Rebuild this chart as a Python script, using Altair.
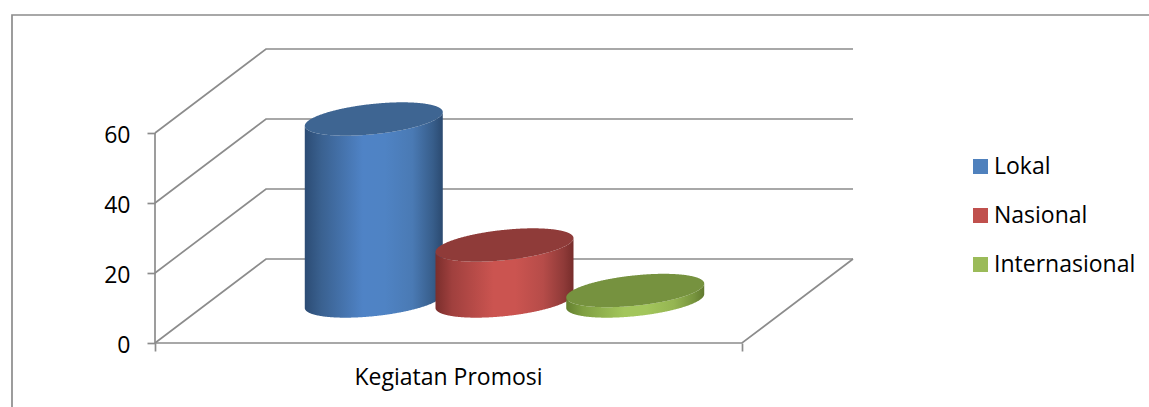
import altair as alt
import numpy as np
import pandas as pd

# Series shown by the chart
SERIES = ["Lokal", "Nasional", "Internasional"]
VALUES = [52, 16, 3]
CATEGORY = ["Kegiatan Promosi"]
TICKS = [0, 20, 40, 60]

LEGEND_COLORS = ["#4F81BD", "#C0504D", "#9BBB59"]
TOP_COLORS = ["#3E6592", "#8F3B39", "#76923F"]
BODY_STOPS = [
    [(0, "#2C4C74"), (0.12, "#3A6190"), (0.42, "#4F83C6"), (0.58, "#4F83C4"), (0.78, "#4A7AB4"), (0.93, "#375D8A"), (1, "#2B4A70")],
    [(0, "#7A2E2C"), (0.12, "#A0403E"), (0.42, "#CB5450"), (0.58, "#CB5450"), (0.78, "#B64C49"), (0.93, "#8F3A38"), (1, "#772D2B")],
    [(0, "#64802F"), (0.12, "#7F9F42"), (0.42, "#A3C65C"), (0.58, "#A3C65C"), (0.78, "#95B552"), (0.93, "#76933D"), (1, "#61792F")],
]

GRAY = "#8C8C8C"
FONT = "Open Sans"
FONT_SIZE = 23

# Oblique projection of the box: floor and walls, expressed in value units
W, H = 1149, 407
LEFT, FRONT_W = 155, 587
DEPTH_DX, DEPTH_DV = 111, 24
x_scale = alt.Scale(domain=[0, W], range=[0, W], nice=False, zero=False)
y_scale = alt.Scale(domain=[-64 / 3.5, 343 / 3.5], range=[H, 0], nice=False, zero=False)


def frac_x(f, depth=0.0):
    return LEFT + f * FRONT_W + depth * DEPTH_DX


# Both axes sit inside the view and are shared by every layer
x_axis = alt.Axis(
    values=[frac_x(0), frac_x(1)], labels=False, domain=False, grid=False,
    tickSize=8, tickColor=GRAY, tickWidth=1.7, offset=-64, title=None,
)
y_axis = alt.Axis(
    values=TICKS, domain=False, grid=False, tickSize=8, tickColor=GRAY, tickWidth=1.7,
    offset=-155, labelFontSize=FONT_SIZE, labelFont=FONT, labelColor="#000000", labelPadding=17,
    labelOffset=2.5, format="d", title=None,
)
X = lambda f: alt.X(f, type="quantitative", scale=x_scale, axis=x_axis)
Y = lambda f: alt.Y(f, type="quantitative", scale=y_scale, axis=y_axis)

# Walls and floor outline
wall_rows = []
for v in TICKS:
    wall_rows += [
        {"k": f"g{v}", "o": 0, "x": frac_x(0), "v": v},
        {"k": f"g{v}", "o": 1, "x": frac_x(0, 1), "v": v + DEPTH_DV},
        {"k": f"g{v}", "o": 2, "x": frac_x(1, 1), "v": v + DEPTH_DV},
    ]
wall_rows += [
    {"k": "floor", "o": 0, "x": frac_x(0), "v": 0},
    {"k": "floor", "o": 1, "x": frac_x(1), "v": 0},
    {"k": "floor", "o": 2, "x": frac_x(1, 1), "v": DEPTH_DV},
    {"k": "axis", "o": 0, "x": frac_x(0), "v": 0},
    {"k": "axis", "o": 1, "x": frac_x(0), "v": TICKS[-1]},
]
walls = (
    alt.Chart(pd.DataFrame(wall_rows))
    .mark_line(color=GRAY, strokeWidth=1.7)
    .encode(x=X("x"), y=Y("v"), detail="k:N", order="o:Q")
)

# Outer frame of the chart, open on the right and at the bottom
frame = (
    alt.Chart(pd.DataFrame({"x": [W, 12, 12], "v": [328 / 3.5, 328 / 3.5, -64 / 3.5], "o": [0, 1, 2]}))
    .mark_line(color=GRAY, strokeWidth=1.7)
    .encode(x=X("x"), y=Y("v"), order="o:Q")
)

# Cylinders: sheared ellipses for the caps, the body spans the two lower arcs
A, B, SLOPE = 69, 15.2 / 3.5, 0.1 / 3.5
STEP = 0.2227
DEPTH_MID = 0.5
layers = [frame, walls]
for i, (name, value) in enumerate(zip(SERIES, VALUES)):
    cx = frac_x(0.5 + (i - 1) * STEP, DEPTH_MID) + 0.5
    base = DEPTH_MID * DEPTH_DV
    dx = A * np.cos(np.linspace(np.pi, 0, 241))
    arc = B * np.sqrt(np.clip(1 - (dx / A) ** 2, 0, 1))
    tilt = SLOPE * dx
    shape = pd.DataFrame({
        "x": cx + dx,
        "body_top": base + value + tilt - arc,
        "body_bottom": base + tilt - arc,
        "cap_low": base + value + tilt - arc,
        "cap_high": base + value + tilt + arc,
    })
    gradient = alt.LinearGradient(
        gradient="linear", x1=0, x2=1, y1=0, y2=0,
        stops=[alt.GradientStop(color=c, offset=o) for o, c in BODY_STOPS[i]],
    )
    layers.append(
        alt.Chart(shape).mark_area(color=gradient, interpolate="linear")
        .encode(x=X("x"), y=Y("body_top"), y2="body_bottom:Q")
    )
    layers.append(
        alt.Chart(shape).mark_area(color=TOP_COLORS[i], interpolate="linear")
        .encode(x=X("x"), y=Y("cap_low"), y2="cap_high:Q")
    )

# Category label centred under the front edge
label = (
    alt.Chart(pd.DataFrame({"t": CATEGORY, "x": [frac_x(0.5)], "v": [(343 - 378) / 3.5]}))
    .mark_text(fontSize=FONT_SIZE, font=FONT, color="#000000", align="center", baseline="middle")
    .encode(x=X("x"), y=Y("v"), text="t:N")
)
layers.append(label)

# Zero-size points whose only job is to carry the legend
legend_points = (
    alt.Chart(pd.DataFrame({"s": SERIES, "x": [frac_x(0)] * 3, "v": [0] * 3}))
    .mark_point(filled=True, size=0, opacity=0)
    .encode(
        x=X("x"),
        y=Y("v"),
        color=alt.Color(
            "s:N",
            sort=SERIES,
            scale=alt.Scale(domain=SERIES, range=LEGEND_COLORS),
            legend=alt.Legend(
                title=None, orient="none", legendX=969, legendY=155,
                symbolType="square", symbolSize=225, symbolOpacity=1, symbolStrokeWidth=0,
                labelFont=FONT, labelFontSize=FONT_SIZE, labelColor="#000000", labelOffset=2,
                rowPadding=25, labelLimit=200, padding=0,
            ),
        ),
    )
)
layers.append(legend_points)

chart = (
    alt.layer(*layers)
    .properties(width=W, height=H, padding=0, autosize=alt.AutoSizeParams(type="none"), background="#FFFFFF")
    .configure_view(stroke=None)
)
chart.save("out.html", embed_options={"renderer": "svg", "actions": False})
